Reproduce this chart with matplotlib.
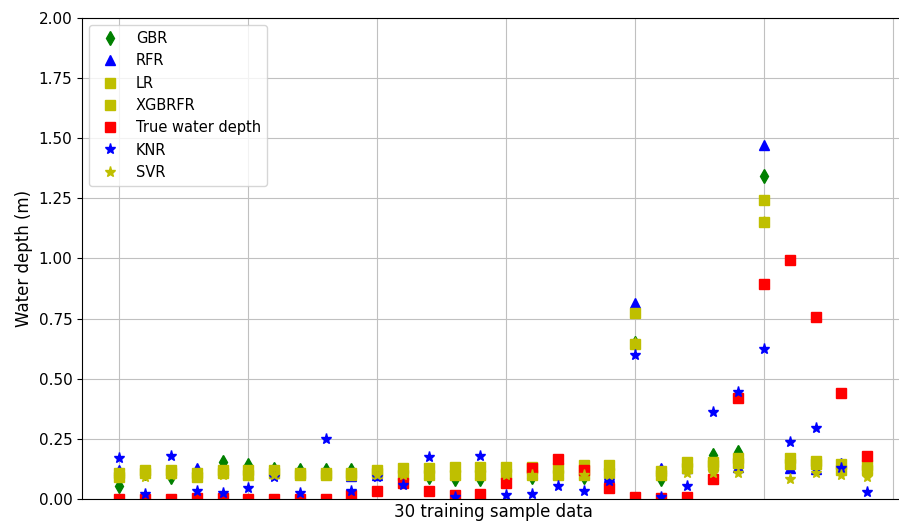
import numpy as np
from matplotlib import pyplot as plt

# 30 muestras de entrenamiento: profundidad real y predicciones de cada modelo
samples = np.arange(30)

gbr = [0.055, 0.11, 0.09, 0.11, 0.155, 0.14, 0.125, 0.12, 0.12, 0.12,
       0.11, 0.11, 0.09, 0.085, 0.085, 0.11, 0.09, 0.11, 0.09, 0.11,
       0.65, 0.085, 0.13, 0.185, 0.195, 1.345, 0.15, 0.14, 0.13, 0.13]
rfr = [0.12, 0.12, 0.12, 0.13, 0.12, 0.11, 0.11, 0.11, 0.11, 0.095,
       0.10, 0.11, 0.11, 0.11, 0.11, 0.11, 0.11, 0.11, 0.11, 0.09,
       0.815, 0.13, 0.13, 0.14, 0.135, 1.47, 0.13, 0.125, 0.15, 0.13]
lr = [0.11, 0.12, 0.12, 0.11, 0.12, 0.12, 0.12, 0.11, 0.11, 0.11,
      0.12, 0.13, 0.13, 0.135, 0.135, 0.135, 0.135, 0.13, 0.14, 0.14,
      0.775, 0.115, 0.155, 0.155, 0.17, 1.245, 0.17, 0.16, 0.145, 0.14]
xgbrfr = [0.09, 0.11, 0.11, 0.09, 0.11, 0.10, 0.11, 0.10, 0.10, 0.10,
          0.11, 0.10, 0.10, 0.10, 0.10, 0.105, 0.10, 0.10, 0.10, 0.11,
          0.645, 0.10, 0.13, 0.14, 0.15, 1.15, 0.145, 0.145, 0.12, 0.12]
true_depth = [0.0, 0.0, 0.0, 0.005, 0.005, 0.0, 0.0, 0.0, 0.0, 0.015,
              0.035, 0.065, 0.035, 0.015, 0.02, 0.065, 0.13, 0.165, 0.12, 0.045,
              0.01, 0.005, 0.01, 0.085, 0.42, 0.895, 0.995, 0.755, 0.44, 0.18]
knr = [0.17, 0.02, 0.18, 0.035, 0.025, 0.045, 0.09, 0.025, 0.25, 0.035,
       0.09, 0.06, 0.175, 0.01, 0.18, 0.015, 0.02, 0.055, 0.035, 0.075,
       0.60, 0.01, 0.055, 0.36, 0.445, 0.625, 0.235, 0.295, 0.13, 0.03]
svr = [0.09, 0.09, 0.10, 0.10, 0.10, 0.10, 0.10, 0.10, 0.10, 0.10,
       0.10, 0.10, 0.10, 0.10, 0.10, 0.10, 0.10, 0.10, 0.10, 0.10,
       0.65, 0.10, 0.11, 0.11, 0.11, 1.15, 0.085, 0.11, 0.10, 0.09]

fig = plt.figure(figsize=(8.99, 5.23), dpi=100)
ax = fig.add_axes([0.0912, 0.0459, 0.9151, 0.9197])

ms = 7.5
ax.plot(samples, gbr, 'gd', ms=ms, label='GBR')
ax.plot(samples, rfr, 'b^', ms=ms, label='RFR')
ax.plot(samples, lr, 'ys', ms=ms, label='LR')
ax.plot(samples, xgbrfr, 'ys', ms=ms, label='XGBRFR')
ax.plot(samples, true_depth, 'rs', ms=ms, label='True water depth')
ax.plot(samples, knr, 'b*', ms=ms + 0.5, label='KNR')
ax.plot(samples, svr, 'y*', ms=ms + 0.5, label='SVR')

ax.set_xlim(-1.45, 30.45)
ax.set_ylim(0, 2)
ax.set_xticks(np.arange(0, 31, 5))
ax.set_yticks(np.arange(0, 2.01, 0.25))
ax.tick_params(axis='x', length=0, labelbottom=False)
ax.tick_params(axis='y', labelsize=11)
ax.grid(True, color='#c0c0c0')

ax.set_xlabel('30 training sample data', fontsize=12, labelpad=3)
ax.set_ylabel('Water depth (m)', fontsize=12)
ax.legend(loc='upper left', fontsize=10.5)

fig.savefig('out.png', dpi=100)
